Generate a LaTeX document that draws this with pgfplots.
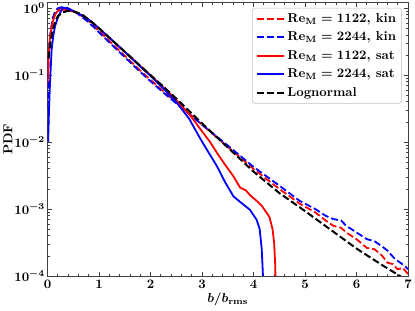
\documentclass[border=0pt]{standalone}
\usepackage{pgfplots}
\pgfplotsset{compat=1.18}
\begin{document}
\begin{tikzpicture}
\begin{axis}[
  scale only axis, width=277.3bp, height=210.2bp,
  ymode=log, xmin=0, xmax=7, ymin=1e-4, ymax=1.21,
  xtick={0,1,2,3,4,5,6,7}, minor x tick num=4,
  ytick={1e-4,1e-3,1e-2,1e-1,1},
  tick align=inside, major tick length=3.08bp, minor tick length=1.7bp,
  axis line style={black!75, line width=0.6bp}, every tick/.style={black!75, line width=0.5bp},
  font=\fontsize{10}{12}\selectfont\bfseries\boldmath,
  ticklabel style={font=\fontsize{10}{12}\selectfont\boldmath},
  yticklabel style={xshift=1.5bp},
  xlabel={$b/b_{\mathrm{rms}}$}, ylabel={PDF},
  xlabel style={at={(axis description cs:0.5,-0.084)}, anchor=center},
  ylabel style={at={(axis description cs:-0.1096,0.5)}, anchor=center},
  legend cell align=left,
  legend style={at={(0.983,0.981)}, anchor=north east, draw=black!25,
    rounded corners=1.5bp, fill=white, font=\fontsize{10}{12}\selectfont\bfseries\boldmath,
    row sep=1.9bp, inner xsep=2.3bp, inner ysep=1.9bp},
  legend image code/.code={\draw[#1] (0bp,0bp) -- (20.8bp,0bp);},
  kin/.style={line width=1.38bp, dash pattern=on 5.4bp off 2.3bp},
  sat/.style={line width=1.38bp},
]
\addplot[red, kin] coordinates {
(0.005,0.063) (0.02,0.178) (0.05,0.355) (0.1,0.631) (0.15,0.832) (0.2,0.933)
(0.3,1.0) (0.4,0.977) (0.5,0.912) (0.6,0.832) (0.8,0.646) (1.0,0.457)
(1.2,0.324) (1.5,0.195) (1.8,0.117) (2.0,0.0851) (2.25,0.0575) (2.5,0.0389)
(3.0,0.0182) (3.5,0.00851) (4.0,0.00398) (4.5,0.00200) (4.9,0.00120)
(5.2,0.000891) (5.4,0.000676) (5.55,0.000562) (5.7,0.000525) (5.8,0.000447)
(6.0,0.000355) (6.2,0.000263) (6.35,0.000251) (6.5,0.000200) (6.6,0.000158)
(6.7,0.000151) (6.8,0.000126) (6.9,0.000132) (7.0,0.000107)};
\addlegendentry{$\mathrm{Re}_{\mathrm{M}}=1122$, kin}
\addplot[blue, kin] coordinates {
(0.005,0.0316) (0.02,0.158) (0.05,0.398) (0.1,0.708) (0.15,0.912) (0.2,1.0)
(0.3,1.047) (0.4,1.0) (0.5,0.912) (0.6,0.813) (0.8,0.617) (1.0,0.437)
(1.2,0.309) (1.5,0.186) (1.8,0.112) (2.0,0.0813) (2.25,0.0550) (2.5,0.0380)
(3.0,0.0182) (3.5,0.00891) (4.0,0.00427) (4.5,0.00224) (4.9,0.00132)
(5.2,0.00100) (5.4,0.000794) (5.55,0.000708) (5.7,0.000676) (5.8,0.000562)
(6.0,0.000447) (6.2,0.000355) (6.35,0.000331) (6.5,0.000275) (6.6,0.000240)
(6.75,0.000178) (6.85,0.000158) (6.95,0.000138) (7.0,0.000126)};
\addlegendentry{$\mathrm{Re}_{\mathrm{M}}=2244$, kin}
\addplot[red, sat] coordinates {
(0.005,0.0794) (0.02,0.200) (0.05,0.380) (0.1,0.631) (0.15,0.813) (0.2,0.912)
(0.3,0.955) (0.4,0.933) (0.5,0.891) (0.6,0.832) (0.8,0.676) (1.0,0.501)
(1.2,0.363) (1.5,0.224) (1.8,0.138) (2.0,0.100) (2.25,0.0661) (2.5,0.0427)
(2.75,0.0263) (3.0,0.0145) (3.15,0.0102) (3.29,0.00692) (3.45,0.00457)
(3.61,0.00309) (3.74,0.00209) (3.85,0.00191) (3.93,0.00162) (4.05,0.00135)
(4.16,0.00112) (4.25,0.000891) (4.31,0.000759) (4.37,0.000501) (4.40,0.000316)
(4.42,0.000158) (4.43,0.0000794)};
\addlegendentry{$\mathrm{Re}_{\mathrm{M}}=1122$, sat}
\addplot[blue, sat] coordinates {
(0.012,0.0100) (0.03,0.0316) (0.049,0.0776) (0.08,0.240) (0.11,0.380)
(0.146,0.537) (0.21,0.759) (0.3,1.023) (0.4,0.977) (0.5,0.912) (0.6,0.832)
(0.8,0.676) (1.0,0.501) (1.2,0.363) (1.5,0.224) (1.8,0.135) (2.0,0.0977)
(2.25,0.0631) (2.5,0.0398) (2.75,0.0224) (2.96,0.0115) (3.1,0.00759)
(3.29,0.00437) (3.45,0.00251) (3.61,0.00155) (3.75,0.00126) (3.93,0.000977)
(4.06,0.000692) (4.12,0.000501) (4.16,0.000251) (4.19,0.0000794)};
\addlegendentry{$\mathrm{Re}_{\mathrm{M}}=2244$, sat}
\addplot[black, kin, line width=1.54bp] coordinates {
(0.02,0.178) (0.05,0.282) (0.1,0.468) (0.15,0.631) (0.2,0.759) (0.3,0.871)
(0.4,0.912) (0.5,0.902) (0.6,0.851) (0.7,0.776) (0.8,0.676) (0.9,0.589)
(1.0,0.501) (1.2,0.363) (1.5,0.224) (1.8,0.138) (2.0,0.100) (2.25,0.0676)
(2.5,0.0447) (3.0,0.0191) (3.5,0.00832) (4.0,0.00363) (4.5,0.00174)
(5.0,0.000933) (5.5,0.000490) (6.0,0.000257) (6.5,0.000145) (6.8,0.000105)
(7.0,0.0000832)};
\addlegendentry{Lognormal}
\end{axis}
\pgfresetboundingbox
\path[use as bounding box] ([shift={(-36.54bp,-26.92bp)}]current axis.south west) rectangle ([shift={(5.39bp,2.08bp)}]current axis.north east);
\end{tikzpicture}
\end{document}
